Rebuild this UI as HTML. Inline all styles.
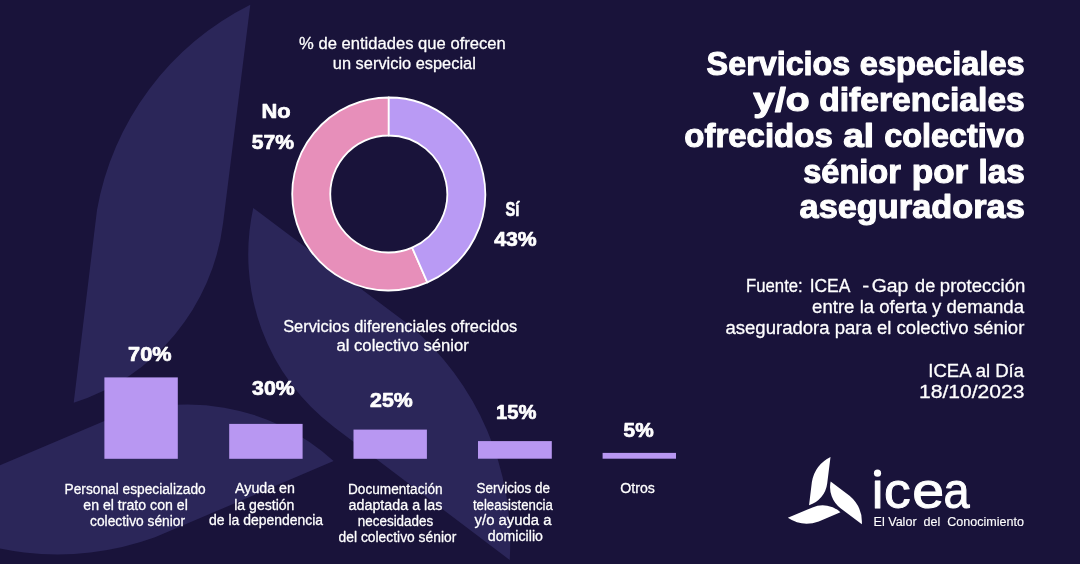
<!DOCTYPE html>
<html lang="es"><head><meta charset="utf-8"><title>ICEA</title><style>html,body{margin:0;padding:0;background:#19133a}svg{display:block}text{font-family:"Liberation Sans",sans-serif}</style></head><body>
<svg width="1080" height="564" viewBox="0 0 1080 564">
<rect width="1080" height="564" fill="#19133a"/>
<g fill="#2b2659"><path id="pt" d="M250.3 4.7 L223.1 223.0 A216.8 216.8 0 0 1 73.7 402.8 L97.0 210.0 A285 285 0 0 1 250.3 4.7 Z"/><path d="M250.3 4.7 L223.1 223.0 A216.8 216.8 0 0 1 73.7 402.8 L97.0 210.0 A285 285 0 0 1 250.3 4.7 Z" transform="translate(1.5 1) rotate(120 219.25 356.3)"/><path d="M250.3 4.7 L223.1 223.0 A216.8 216.8 0 0 1 73.7 402.8 L97.0 210.0 A285 285 0 0 1 250.3 4.7 Z" transform="translate(1.3 2) rotate(240 219.25 356.3)"/></g>
<g stroke="#fff" stroke-width="1.8" stroke-linejoin="round"><path d="M427.35 282.44 A96.5 96.5 0 1 1 388.75 97.50 L388.75 135.50 A58.5 58.5 0 1 0 412.15 247.62 Z" fill="#e78fba"/><path d="M388.75 97.50 A96.5 96.5 0 0 1 427.35 282.44 L412.15 247.62 A58.5 58.5 0 0 0 388.75 135.50 Z" fill="#b99af4"/></g>
<g fill="#b897f2"><rect x="104.4" y="377.4" width="73.4" height="81.4"/><rect x="229.2" y="423.9" width="73.4" height="34.9"/><rect x="353.5" y="429.6" width="73.4" height="29.2"/><rect x="478" y="441.1" width="73.8" height="17.6"/><rect x="602.6" y="452.9" width="73.4" height="5.8"/></g>
<g fill="#fff" transform="translate(830.50 457.00) scale(0.1215) translate(-250.30 -4.70)"><path d="M250.3 4.7 L223.1 223.0 A216.8 216.8 0 0 1 73.7 402.8 L97.0 210.0 A285 285 0 0 1 250.3 4.7 Z"/><path d="M250.3 4.7 L223.1 223.0 A216.8 216.8 0 0 1 73.7 402.8 L97.0 210.0 A285 285 0 0 1 250.3 4.7 Z" transform="rotate(120 219.25 356.3)"/><path d="M250.3 4.7 L223.1 223.0 A216.8 216.8 0 0 1 73.7 402.8 L97.0 210.0 A285 285 0 0 1 250.3 4.7 Z" transform="rotate(240 219.25 356.3)"/></g>
<g opacity="0.999" fill="#fff" stroke="#fff" stroke-linejoin="round" font-family="'Liberation Sans',sans-serif">
<text xml:space="preserve" transform="translate(706.62 75.00) scale(0.9849 1)" font-size="32.8" stroke-width="1.1" font-weight="bold">Servicios</text>
<text xml:space="preserve" transform="translate(859.78 75.00) scale(0.9943 1)" font-size="32.8" stroke-width="1.1" font-weight="bold">especiales</text>
<text xml:space="preserve" transform="translate(753.24 111.00) scale(1.1918 1)" font-size="32.8" stroke-width="1.1" font-weight="bold">y/o</text>
<text xml:space="preserve" transform="translate(819.17 111.00) scale(1.0256 1)" font-size="32.8" stroke-width="1.1" font-weight="bold">diferenciales</text>
<text xml:space="preserve" transform="translate(684.26 146.70) scale(1.0062 1)" font-size="32.8" stroke-width="1.1" font-weight="bold">ofrecidos</text>
<text xml:space="preserve" transform="translate(843.22 146.70) scale(1.1277 1)" font-size="32.8" stroke-width="1.1" font-weight="bold">al</text>
<text xml:space="preserve" transform="translate(884.28 146.70) scale(0.9876 1)" font-size="32.8" stroke-width="1.1" font-weight="bold">colectivo</text>
<text xml:space="preserve" transform="translate(803.15 182.70) scale(0.9934 1)" font-size="32.8" stroke-width="1.1" font-weight="bold">sénior</text>
<text xml:space="preserve" transform="translate(911.74 182.70) scale(1.0700 1)" font-size="32.8" stroke-width="1.1" font-weight="bold">por</text>
<text xml:space="preserve" transform="translate(978.52 182.70) scale(1.0153 1)" font-size="32.8" stroke-width="1.1" font-weight="bold">las</text>
<text xml:space="preserve" transform="translate(799.54 218.30) scale(1.0474 1)" font-size="32.8" stroke-width="1.1" font-weight="bold">aseguradoras</text>
<text xml:space="preserve" transform="translate(299.06 49.25) scale(0.9771 1)" font-size="17" stroke-width="0.3">% de entidades que ofrecen</text>
<text xml:space="preserve" transform="translate(332.84 68.75) scale(0.9646 1)" font-size="17" stroke-width="0.3">un servicio especial</text>
<text xml:space="preserve" transform="translate(283.16 332.00) scale(0.9648 1)" font-size="17" stroke-width="0.3">Servicios diferenciales ofrecidos</text>
<text xml:space="preserve" transform="translate(336.44 351.25) scale(0.9801 1)" font-size="17" stroke-width="0.3">al colectivo sénior</text>
<text xml:space="preserve" transform="translate(261.39 118.00) scale(1.1328 1)" font-size="19.3" stroke-width="0.7" font-weight="bold">No</text>
<text xml:space="preserve" transform="translate(251.70 149.20) scale(1.0936 1)" font-size="19.3" stroke-width="0.7" font-weight="bold">57%</text>
<text xml:space="preserve" transform="translate(505.43 215.50) scale(0.7590 1)" font-size="19.3" stroke-width="0.7" font-weight="bold">Sí</text>
<text xml:space="preserve" transform="translate(494.28 245.75) scale(1.0994 1)" font-size="19.3" stroke-width="0.7" font-weight="bold">43%</text>
<text xml:space="preserve" transform="translate(128.12 361.00) scale(1.1220 1)" font-size="19.3" stroke-width="0.7" font-weight="bold">70%</text>
<text xml:space="preserve" transform="translate(252.06 395.00) scale(1.1025 1)" font-size="19.3" stroke-width="0.7" font-weight="bold">30%</text>
<text xml:space="preserve" transform="translate(370.11 407.00) scale(1.1038 1)" font-size="19.3" stroke-width="0.7" font-weight="bold">25%</text>
<text xml:space="preserve" transform="translate(496.08 418.75) scale(1.0456 1)" font-size="19.3" stroke-width="0.7" font-weight="bold">15%</text>
<text xml:space="preserve" transform="translate(623.61 437.40) scale(1.0757 1)" font-size="19.3" stroke-width="0.7" font-weight="bold">5%</text>
<text xml:space="preserve" transform="translate(64.52 494.00) scale(0.9292 1)" font-size="14.8" stroke-width="0.3">Personal especializado</text>
<text xml:space="preserve" transform="translate(83.30 510.00) scale(0.9551 1)" font-size="14.8" stroke-width="0.3">en el trato con el</text>
<text xml:space="preserve" transform="translate(90.06 525.75) scale(0.9317 1)" font-size="14.8" stroke-width="0.3">colectivo sénior</text>
<text xml:space="preserve" transform="translate(235.12 493.20) scale(0.9612 1)" font-size="14.8" stroke-width="0.3">Ayuda en</text>
<text xml:space="preserve" transform="translate(234.20 509.50) scale(0.9514 1)" font-size="14.8" stroke-width="0.3">la gestión</text>
<text xml:space="preserve" transform="translate(209.06 525.00) scale(0.9428 1)" font-size="14.8" stroke-width="0.3">de la dependencia</text>
<text xml:space="preserve" transform="translate(348.03 494.00) scale(0.9211 1)" font-size="14.8" stroke-width="0.3">Documentación</text>
<text xml:space="preserve" transform="translate(348.54 510.00) scale(0.9663 1)" font-size="14.8" stroke-width="0.3">adaptada a las</text>
<text xml:space="preserve" transform="translate(357.76 525.75) scale(0.9096 1)" font-size="14.8" stroke-width="0.3">necesidades</text>
<text xml:space="preserve" transform="translate(338.57 542.00) scale(0.9358 1)" font-size="14.8" stroke-width="0.3">del colectivo sénior</text>
<text xml:space="preserve" transform="translate(476.54 493.00) scale(0.9107 1)" font-size="14.8" stroke-width="0.3">Servicios de</text>
<text xml:space="preserve" transform="translate(472.95 509.50) scale(0.8912 1)" font-size="14.8" stroke-width="0.3">teleasistencia</text>
<text xml:space="preserve" transform="translate(474.61 525.00) scale(1.0062 1)" font-size="14.8" stroke-width="0.3">y/o ayuda a</text>
<text xml:space="preserve" transform="translate(487.80 541.25) scale(0.9579 1)" font-size="14.8" stroke-width="0.3">domicilio</text>
<text xml:space="preserve" transform="translate(620.23 493.00) scale(0.9570 1)" font-size="14.8" stroke-width="0.3">Otros</text>
<text xml:space="preserve" transform="translate(745.98 292.10) scale(0.9008 1)" font-size="18.6" stroke-width="0.3">Fuente:</text>
<text xml:space="preserve" transform="translate(809.64 292.10) scale(0.9387 1)" font-size="18.6" stroke-width="0.3">ICEA</text>
<text xml:space="preserve" transform="translate(862.32 292.10) scale(1.1208 1)" font-size="18.6" stroke-width="0.3">-</text>
<text xml:space="preserve" transform="translate(871.67 292.10) scale(1.0467 1)" font-size="18.6" stroke-width="0.3">Gap</text>
<text xml:space="preserve" transform="translate(915.09 292.10) scale(0.9748 1)" font-size="18.6" stroke-width="0.3">de</text>
<text xml:space="preserve" transform="translate(939.86 292.10) scale(0.9965 1)" font-size="18.6" stroke-width="0.3">protección</text>
<text xml:space="preserve" transform="translate(812.06 312.90) scale(1.0009 1)" font-size="18.6" stroke-width="0.3">entre la oferta y demanda</text>
<text xml:space="preserve" transform="translate(725.46 334.00) scale(0.9975 1)" font-size="18.6" stroke-width="0.3">aseguradora para el colectivo sénior</text>
<text xml:space="preserve" transform="translate(928.24 377.10) scale(0.9978 1)" font-size="18.6" stroke-width="0.3">ICEA al Día</text>
<text xml:space="preserve" transform="translate(918.94 397.90) scale(1.1340 1)" font-size="18.6" stroke-width="0.3">18/10/2023</text>
<text xml:space="preserve" transform="translate(870.45 508.20) scale(1.0321 1)" font-size="49.6" stroke-width="1.0">ı</text>
<text xml:space="preserve" transform="translate(883.93 508.20) scale(1.0757 1)" font-size="49.6" stroke-width="1.0">c</text>
<text xml:space="preserve" transform="translate(912.27 508.20) scale(1.1554 1)" font-size="49.6" stroke-width="1.0">e</text>
<text xml:space="preserve" transform="translate(943.41 508.20) scale(0.9456 1)" font-size="49.6" stroke-width="1.0">a</text>
<text xml:space="preserve" transform="translate(873.54 525.50) scale(0.9309 1)" font-size="13.5" stroke-width="0.15">El Valor  del  Conocimiento</text>
<circle cx="877.5" cy="473.2" r="3.6" stroke="none"/>
</g></svg>
</body></html>
